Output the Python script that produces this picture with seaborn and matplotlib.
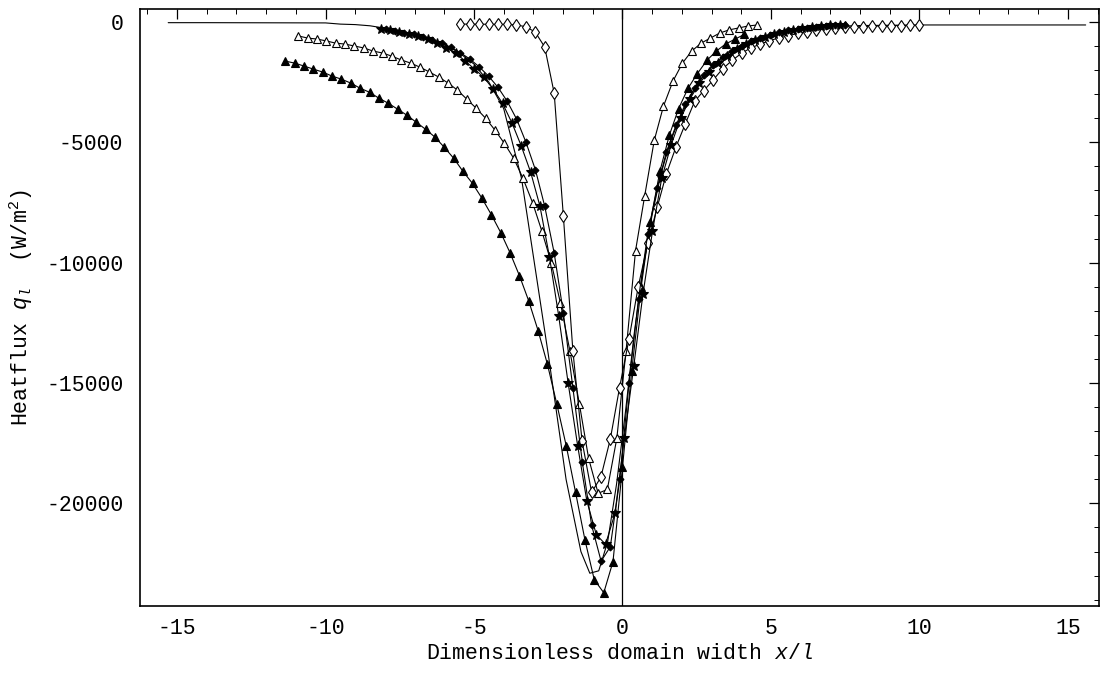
import matplotlib
matplotlib.use("Agg")
import matplotlib.pyplot as plt
from matplotlib.ticker import MultipleLocator
import seaborn as sns

# Heat flux profiles across the dimensionless domain width x/l (W/m^2)

# filled triangles
x_tri_filled = [-11.36, -11.04, -10.73, -10.41, -10.10, -9.78, -9.47, -9.15, -8.84, -8.52,
                -8.20, -7.89, -7.57, -7.26, -6.94, -6.63, -6.31, -6.00, -5.68, -5.37,
                -5.05, -4.73, -4.42, -4.10, -3.79, -3.47, -3.16, -2.84, -2.53, -2.21,
                -1.89, -1.58, -1.26, -0.95, -0.63, -0.32, 0.00, 0.31, 0.63, 0.94,
                1.26, 1.58, 1.89, 2.21, 2.52, 2.84, 3.15, 3.47, 3.78, 4.10]
q_tri_filled = [-1625, -1710, -1830, -1960, -2080, -2250, -2375, -2540, -2750, -2920,
                -3170, -3375, -3625, -3875, -4170, -4460, -4790, -5210, -5670, -6210,
                -6710, -7330, -8000, -8750, -9580, -10540, -11580, -12830, -14210, -15880,
                -17630, -19540, -21540, -23170, -23710, -22420, -18500, -14500, -11000, -8300,
                -6200, -4700, -3600, -2750, -2150, -1600, -1220, -920, -720, -520]

# open triangles
x_tri_open = [-10.92, -10.60, -10.29, -9.97, -9.66, -9.34, -9.03, -8.71, -8.40, -8.08,
              -7.77, -7.45, -7.13, -6.82, -6.50, -6.19, -5.87, -5.56, -5.24, -4.93,
              -4.61, -4.29, -3.98, -3.66, -3.35, -3.03, -2.72, -2.40, -2.09, -1.77,
              -1.45, -1.14, -0.82, -0.51, -0.19, 0.12, 0.44, 0.75, 1.07, 1.38,
              1.70, 2.02, 2.33, 2.65, 2.96, 3.28, 3.59, 3.91, 4.22, 4.54]
q_tri_open = [-580, -670, -710, -790, -880, -920, -1000, -1080, -1210, -1290,
              -1420, -1580, -1710, -1880, -2080, -2290, -2540, -2830, -3210, -3580,
              -4000, -4500, -5040, -5670, -6500, -7500, -8670, -10000, -11670, -13670,
              -15880, -18130, -19580, -19420, -17290, -13670, -9500, -7210, -4920, -3500,
              -2460, -1710, -1210, -880, -670, -460, -330, -250, -170, -125]

# open diamonds
x_diamond = [-5.46, -5.14, -4.83, -4.51, -4.20, -3.88, -3.57, -3.25, -2.94, -2.62,
             -2.30, -1.99, -1.67, -1.36, -1.04, -0.73, -0.41, -0.10, 0.22, 0.53,
             0.85, 1.17, 1.48, 1.80, 2.11, 2.43, 2.74, 3.06, 3.37, 3.69,
             4.01, 4.32, 4.64, 4.95, 5.27, 5.58, 5.90, 6.21, 6.53, 6.84,
             7.16, 7.48, 7.79, 8.11, 8.42, 8.74, 9.05, 9.37, 9.68, 10.00]
q_diamond = [-90, -90, -95, -95, -100, -100, -125, -200, -420, -1040,
             -2960, -8080, -13670, -17420, -19540, -18920, -17330, -15200, -13170, -11000,
             -9200, -7700, -6300, -5200, -4250, -3300, -2850, -2400, -1950, -1600,
             -1300, -1080, -920, -780, -660, -580, -470, -400, -340, -300,
             -260, -230, -210, -190, -175, -165, -155, -150, -145, -140]

# stars
x_star = [-8.14, -7.82, -7.51, -7.19, -6.88, -6.56, -6.25, -5.93, -5.62, -5.30,
          -4.99, -4.67, -4.35, -4.04, -3.72, -3.41, -3.09, -2.78, -2.46, -2.15,
          -1.83, -1.51, -1.20, -0.88, -0.57, -0.25, 0.06, 0.38, 0.69, 1.01,
          1.32, 1.64, 1.96, 2.27, 2.59, 2.90, 3.22, 3.53, 3.85, 4.16,
          4.48, 4.80, 5.11, 5.43, 5.74, 6.06, 6.37, 6.69, 7.00, 7.32]
q_star = [-280, -340, -400, -480, -580, -720, -880, -1080, -1300, -1620,
          -1950, -2300, -2800, -3380, -4200, -5150, -6250, -7650, -9750, -12200,
          -15000, -17600, -19900, -21300, -21700, -20400, -17300, -14300, -11300, -8700,
          -6500, -5100, -4000, -3200, -2550, -2080, -1700, -1400, -1140, -930,
          -750, -610, -490, -400, -320, -260, -210, -170, -140, -110]

# filled diamonds
x_dot = [-7.98, -7.66, -7.35, -7.03, -6.72, -6.40, -6.09, -5.77, -5.46, -5.14,
         -4.83, -4.51, -4.19, -3.88, -3.56, -3.25, -2.93, -2.62, -2.30, -1.99,
         -1.67, -1.35, -1.04, -0.72, -0.41, -0.09, 0.22, 0.54, 0.85, 1.17,
         1.48, 1.80, 2.12, 2.43, 2.75, 3.06, 3.38, 3.69, 4.01, 4.32,
         4.64, 4.96, 5.27, 5.59, 5.90, 6.22, 6.53, 6.85, 7.16, 7.48]
q_dot = [-300, -370, -440, -520, -620, -740, -880, -1060, -1280, -1540,
         -1860, -2250, -2720, -3300, -4050, -5000, -6150, -7650, -9600, -12100,
         -15200, -18300, -20900, -22400, -21800, -19000, -15000, -11500, -8800, -6900,
         -5400, -4300, -3400, -2750, -2200, -1800, -1470, -1200, -980, -800,
         -650, -530, -430, -350, -290, -240, -200, -165, -135, -110]

# wide-domain solution (plain line)
x_wide = [-15.3, -14.0, -12.0, -10.0, -9.5, -9.0, -8.5, -8.0, -7.5, -7.0,
          -6.5, -6.0, -5.5, -5.0, -4.5, -4.0, -3.4, -2.5, -1.9, -1.4,
          -1.1, -0.8, -0.5, -0.2, 0.1, 0.4, 0.7, 1.0, 1.3, 1.6,
          2.0, 2.5, 3.0, 3.5, 4.0, 4.5, 5.0, 6.0, 7.0, 8.0,
          10.0, 12.0, 14.0, 15.6]
q_wide = [-30, -30, -35, -40, -90, -110, -160, -260, -380, -520,
          -700, -940, -1280, -1750, -2500, -3600, -6500, -13800, -19000, -22000,
          -22900, -22800, -21600, -19200, -16200, -12900, -10200, -8000, -6300, -5000,
          -3800, -2600, -1850, -1300, -950, -700, -520, -300, -190, -150,
          -125, -125, -125, -125]

sns.set_theme(style="white")
plt.rcParams["font.family"] = ["Liberation Mono", "DejaVu Sans"]
plt.rcParams["axes.unicode_minus"] = False
plt.rcParams["mathtext.fontset"] = "custom"
plt.rcParams["mathtext.rm"] = "Liberation Mono"
plt.rcParams["mathtext.it"] = "Liberation Mono:italic"

fig = plt.figure(figsize=(11.04, 6.73), dpi=100)
ax = fig.add_axes([0.1268, 0.0996, 0.8687, 0.8871])

ax.axvline(0, color="black", lw=0.9, zorder=1)

series = [
    (x_wide, q_wide, None, 0, "black"),
    (x_tri_filled, q_tri_filled, "^", 6.0, "black"),
    (x_tri_open, q_tri_open, "^", 6.0, "white"),
    (x_diamond, q_diamond, "d", 6.0, "white"),
    (x_star, q_star, "*", 7.0, "black"),
    (x_dot, q_dot, "D", 3.5, "black"),
]
for xs, qs, mk, ms, face in series:
    kw = dict(color="black", lw=0.8, sort=False, estimator=None, ax=ax)
    if mk is not None:
        kw.update(marker=mk, markersize=ms, markerfacecolor=face,
                  markeredgecolor="black", markeredgewidth=0.8)
    sns.lineplot(x=xs, y=qs, **kw)

ax.set_xlim(-16.25, 16.05)
ax.set_ylim(-24260, 540)
ax.xaxis.set_major_locator(MultipleLocator(5))
ax.xaxis.set_minor_locator(MultipleLocator(1))
ax.yaxis.set_major_locator(MultipleLocator(5000))
ax.yaxis.set_minor_locator(MultipleLocator(1000))
ax.tick_params(which="both", direction="in", top=True, right=True,
               labeltop=False, labelright=False, colors="black")
ax.tick_params(which="major", length=7, width=0.9, labelsize=15.5)
ax.tick_params(axis="y", which="major", pad=12)
ax.tick_params(axis="x", which="major", pad=9)
ax.tick_params(which="minor", length=3.5, width=0.7)
for sp in ax.spines.values():
    sp.set_color("black")
    sp.set_linewidth(1.2)

ax.set_xlabel(r"Dimensionless domain width $x/l$", fontsize=15.5, color="black")
ax.set_ylabel(r"Heatflux $q_l$  (W/m$^2$)", fontsize=15.5, color="black")
ax.yaxis.set_label_coords(-0.1095, 0.5)
ax.xaxis.set_label_coords(0.5, -0.062)
ax.grid(False)

fig.savefig("out.png", dpi=100, facecolor="white")
